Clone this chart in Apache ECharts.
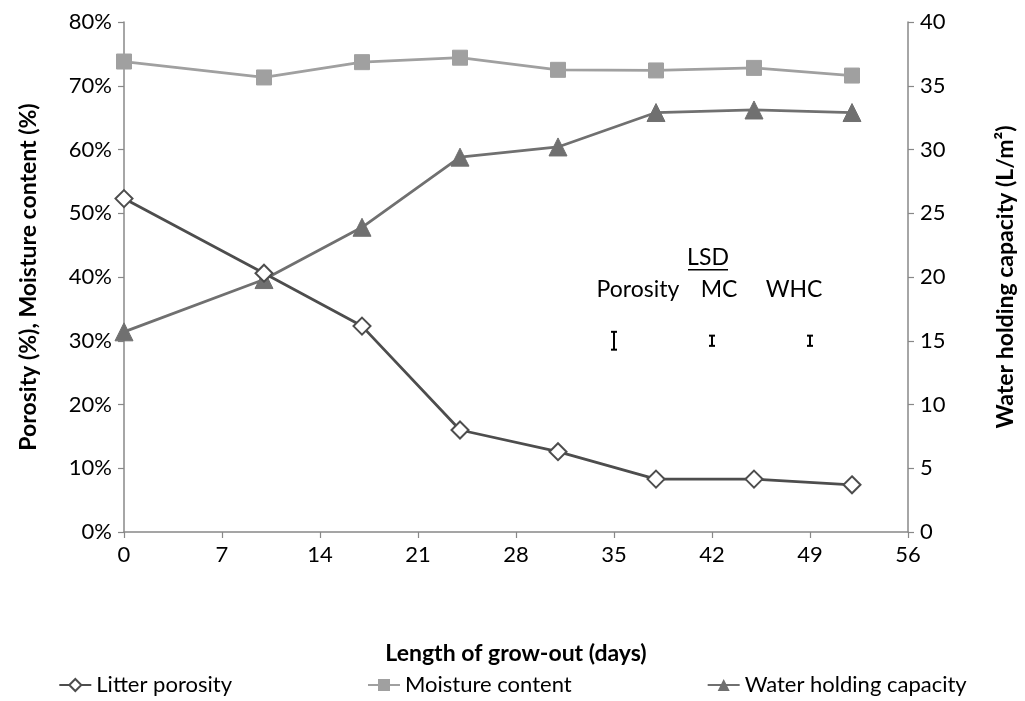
<!DOCTYPE html>
<html>
<head>
<meta charset="utf-8">
<script src="https://cdn.jsdelivr.net/npm/echarts@6/dist/echarts.min.js"></script>
<style>
html,body{margin:0;padding:0;background:#fff;}
#chart{width:1025px;height:701px;}
</style>
</head>
<body>
<div id="chart"></div>
<script>
// ---- data ----
const days = [0, 10, 17, 24, 31, 38, 45, 52];
const porosity = [52.3, 40.6, 32.3, 16.0, 12.6, 8.3, 8.3, 7.4];
const moisture = [73.8, 71.3, 73.7, 74.4, 72.5, 72.4, 72.8, 71.6];
const whc = [15.7, 19.8, 23.9, 29.4, 30.2, 32.9, 33.1, 32.9];
const seriesNames = ['Litter porosity', 'Moisture content', 'Water holding capacity'];
const xTicks = [0, 7, 14, 21, 28, 35, 42, 49, 56];
// LSD bars: [x, low, high]
const lsdLeft = [[35, 28.6, 31.4], [42, 29.2, 30.8]];
const lsdLeftNames = ['Porosity', 'MC'];
const lsdRight = [[49, 14.6, 15.4]];
const lsdRightNames = ['WHC'];

const FONT = 'Lato, "Open Sans", sans-serif';
const chart = echarts.init(document.getElementById('chart'));

function zip(xs, ys) { return xs.map((x, i) => [x, ys[i]]); }

function lsdRender(names, dxs, withTitle) {
  return function (params, api) {
    const x = api.value(0);
    const p1 = api.coord([x, api.value(1)]);
    const p2 = api.coord([x, api.value(2)]);
    const cx = p1[0];
    const top = p2[1], bot = p1[1];
    const mid = (top + bot) / 2;
    const cap = 3;
    const children = [
      { type: 'line', shape: { x1: cx, y1: top, x2: cx, y2: bot }, style: { stroke: '#000', lineWidth: 2 } },
      { type: 'line', shape: { x1: cx - cap, y1: top, x2: cx + cap, y2: top }, style: { stroke: '#000', lineWidth: 2 } },
      { type: 'line', shape: { x1: cx - cap, y1: bot, x2: cx + cap, y2: bot }, style: { stroke: '#000', lineWidth: 2 } },
      { type: 'text', x: cx + dxs[params.dataIndex], y: mid - 51,
        style: { text: names[params.dataIndex], font: '23px ' + FONT, fill: '#000', align: 'center', verticalAlign: 'middle' } }
    ];
    if (withTitle && params.dataIndex === 1) {
      children.push({ type: 'text', x: cx - 4, y: mid - 83,
        style: { text: 'LSD', font: '23px ' + FONT, fill: '#000', align: 'center', verticalAlign: 'middle' } });
      children.push({ type: 'line', shape: { x1: cx - 24, y1: mid - 71, x2: cx + 16, y2: mid - 71 }, style: { stroke: '#000', lineWidth: 1.5 } });
    }
    return { type: 'group', children: children };
  };
}

const axisLine = { show: true, lineStyle: { color: '#888888', width: 1.5 } };
const axisTick = { show: true, inside: false, length: 6, lineStyle: { color: '#888888', width: 1.2 } };
const labelStyle = { color: '#000', fontSize: 22, fontFamily: FONT };

chart.setOption({
  backgroundColor: '#fff',
  animation: false,
  textStyle: { fontFamily: FONT },
  grid: { left: 124, right: 113, top: 22, bottom: 169, containLabel: false },
  legend: {
    data: seriesNames,
    bottom: 0,
    left: 'center',
    itemGap: 135,
    itemWidth: 32,
    itemHeight: 15,
    textStyle: { color: '#000', fontSize: 22, fontFamily: FONT }
  },
  xAxis: {
    type: 'value', min: 0, max: 56, interval: 7,
    name: 'Length of grow-out (days)', nameLocation: 'middle', nameGap: 110,
    nameTextStyle: { color: '#000', fontSize: 23, fontWeight: 'bold', fontFamily: FONT },
    axisLine: axisLine, axisTick: axisTick,
    axisLabel: Object.assign({ margin: 12, formatter: v => xTicks.includes(v) ? String(v) : '' }, labelStyle),
    splitLine: { show: false }
  },
  yAxis: [
    {
      type: 'value', min: 0, max: 80, interval: 10, position: 'left',
      name: 'Porosity (%), Moisture content (%)', nameLocation: 'middle', nameGap: 84,
      nameTextStyle: { color: '#000', fontSize: 23, fontWeight: 'bold', fontFamily: FONT },
      axisLine: axisLine, axisTick: axisTick,
      axisLabel: Object.assign({ margin: 12, formatter: '{value}%' }, labelStyle),
      splitLine: { show: false }
    },
    {
      type: 'value', min: 0, max: 40, interval: 5, position: 'right',
      name: 'Water holding capacity (L/m²)', nameLocation: 'middle', nameGap: 86, nameRotate: 90,
      nameTextStyle: { color: '#000', fontSize: 23, fontWeight: 'bold', fontFamily: FONT },
      axisLine: axisLine, axisTick: axisTick,
      axisLabel: Object.assign({ margin: 12 }, labelStyle),
      splitLine: { show: false }
    }
  ],
  series: [
    {
      name: seriesNames[0], type: 'line', yAxisIndex: 0,
      data: zip(days, porosity),
      symbol: 'diamond', symbolSize: 17,
      lineStyle: { color: '#4d4d4d', width: 2.8 },
      itemStyle: { color: '#fff', borderColor: '#4d4d4d', borderWidth: 2 },
      z: 3
    },
    {
      name: seriesNames[1], type: 'line', yAxisIndex: 0,
      data: zip(days, moisture),
      symbol: 'rect', symbolSize: 15,
      lineStyle: { color: '#a0a0a0', width: 2.8 },
      itemStyle: { color: '#a0a0a0', borderColor: '#a0a0a0' },
      z: 2
    },
    {
      name: seriesNames[2], type: 'line', yAxisIndex: 1,
      data: zip(days, whc),
      symbol: 'triangle', symbolSize: 18,
      lineStyle: { color: '#707070', width: 2.8 },
      itemStyle: { color: '#707070', borderColor: '#707070' },
      z: 2
    },
    {
      type: 'custom', yAxisIndex: 0, silent: true,
      data: lsdLeft,
      renderItem: lsdRender(lsdLeftNames, [24, 7], true),
      encode: { x: 0, y: [1, 2] }, z: 5
    },
    {
      type: 'custom', yAxisIndex: 1, silent: true,
      data: lsdRight,
      renderItem: lsdRender(lsdRightNames, [-16], false),
      encode: { x: 0, y: [1, 2] }, z: 5
    }
  ]
});
</script>
</body>
</html>
